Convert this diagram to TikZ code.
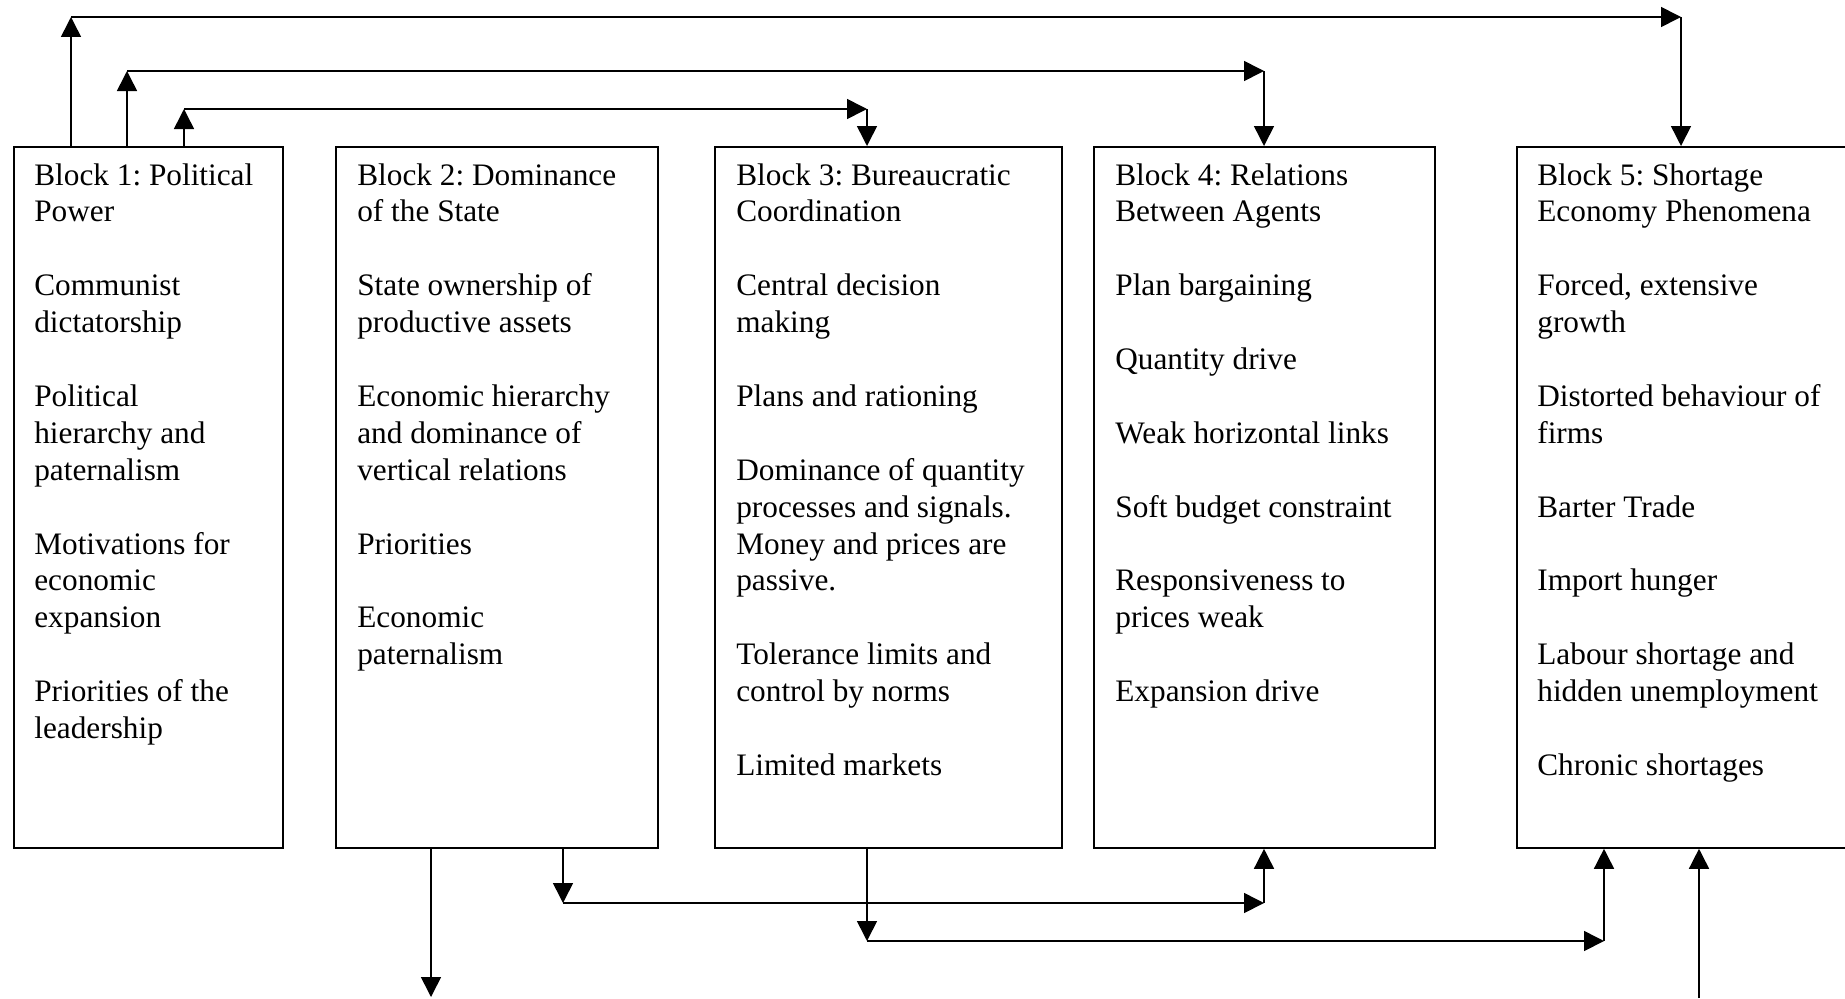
\documentclass[tikz,border=0pt]{standalone}
\usepackage{fontspec}
\setmainfont{Liberation Serif}
\frenchspacing
\usetikzlibrary{arrows.meta}

\begin{document}
\begin{tikzpicture}[x=0.02cm,y=-0.02cm,
  block/.style={draw,line width=1.1pt,anchor=north west,inner sep=0pt,minimum height=14.02cm},
  txt/.style={anchor=north west,align=left,inner sep=0pt,font=\fontsize{17.8}{21}\selectfont},
  arr/.style={-{Triangle[length=0.4cm,width=0.4cm]},line width=0.9pt}
]
  \useasboundingbox (0,0) rectangle (1845,998);

  \node[block,minimum width=5.39cm] (b1) at (13,146) {};
  \node[block,minimum width=6.45cm] (b2) at (335,146) {};
  \node[block,minimum width=6.94cm] (b3) at (714,146) {};
  \node[block,minimum width=6.82cm] (b4) at (1093,146) {};
  \node[block,minimum width=7.6cm] (b5) at (1516,146) {};

  \node[txt] (t1) at (34,163) {Block 1: Political\\Power\\[\baselineskip]
    Communist\\dictatorship\\[\baselineskip]
    Political\\hierarchy and\\paternalism\\[\baselineskip]
    Motivations for\\economic\\expansion\\[\baselineskip]
    Priorities of the\\leadership};
  \node[txt] (t2) at (357,163) {Block 2: Dominance\\of the State\\[\baselineskip]
    State ownership of\\productive assets\\[\baselineskip]
    Economic hierarchy\\and dominance of\\vertical relations\\[\baselineskip]
    Priorities\\[\baselineskip]
    Economic\\paternalism};
  \node[txt] (t3) at (736,163) {Block 3: Bureaucratic\\Coordination\\[\baselineskip]
    Central decision\\making\\[\baselineskip]
    Plans and rationing\\[\baselineskip]
    Dominance of quantity\\processes and signals.\\Money and prices are\\passive.\\[\baselineskip]
    Tolerance limits and\\control by norms\\[\baselineskip]
    Limited markets};
  \node[txt] (t4) at (1115,163) {Block 4: Relations\\Between Agents\\[\baselineskip]
    Plan bargaining\\[\baselineskip]
    Quantity drive\\[\baselineskip]
    Weak horizontal links\\[\baselineskip]
    Soft budget constraint\\[\baselineskip]
    Responsiveness to\\prices weak\\[\baselineskip]
    Expansion drive};
  \node[txt] (t5) at (1537,163) {Block 5: Shortage\\Economy Phenomena\\[\baselineskip]
    Forced, extensive\\growth\\[\baselineskip]
    Distorted behaviour of\\firms\\[\baselineskip]
    Barter Trade\\[\baselineskip]
    Import hunger\\[\baselineskip]
    Labour shortage and\\hidden unemployment\\[\baselineskip]
    Chronic shortages};

  % links over the top
  \coordinate (pa) at (71,17);
  \coordinate (pb) at (1681,17);
  \draw[arr] (pa |- b1.north) -- (pa);
  \draw[arr] (pa) -- (pb);
  \draw[arr] (pb) -- (pb |- b5.north);

  \coordinate (qa) at (127,71);
  \coordinate (qb) at (1264,71);
  \draw[arr] (qa |- b1.north) -- (qa);
  \draw[arr] (qa) -- (qb);
  \draw[arr] (qb) -- (qb |- b4.north);

  \coordinate (ra) at (184,109);
  \coordinate (rb) at (867,109);
  \draw[arr] (ra |- b1.north) -- (ra);
  \draw[arr] (ra) -- (rb);
  \draw[arr] (rb) -- (rb |- b3.north);

  % links underneath
  \coordinate (sa) at (431,997);
  \draw[arr] (sa |- b2.south) -- (sa);

  \coordinate (ua) at (563,903);
  \coordinate (ub) at (1264,903);
  \draw[arr] (ua |- b2.south) -- (ua);
  \draw[arr] (ua) -- (ub);
  \draw[arr] (ub) -- (ub |- b4.south);

  \coordinate (va) at (867,941);
  \coordinate (vb) at (1604,941);
  \draw[arr] (va |- b3.south) -- (va);
  \draw[arr] (va) -- (vb);
  \draw[arr] (vb) -- (vb |- b5.south);

  \coordinate (wa) at (1699,998);
  \draw[arr] (wa) -- (wa |- b5.south);
\end{tikzpicture}
\end{document}
